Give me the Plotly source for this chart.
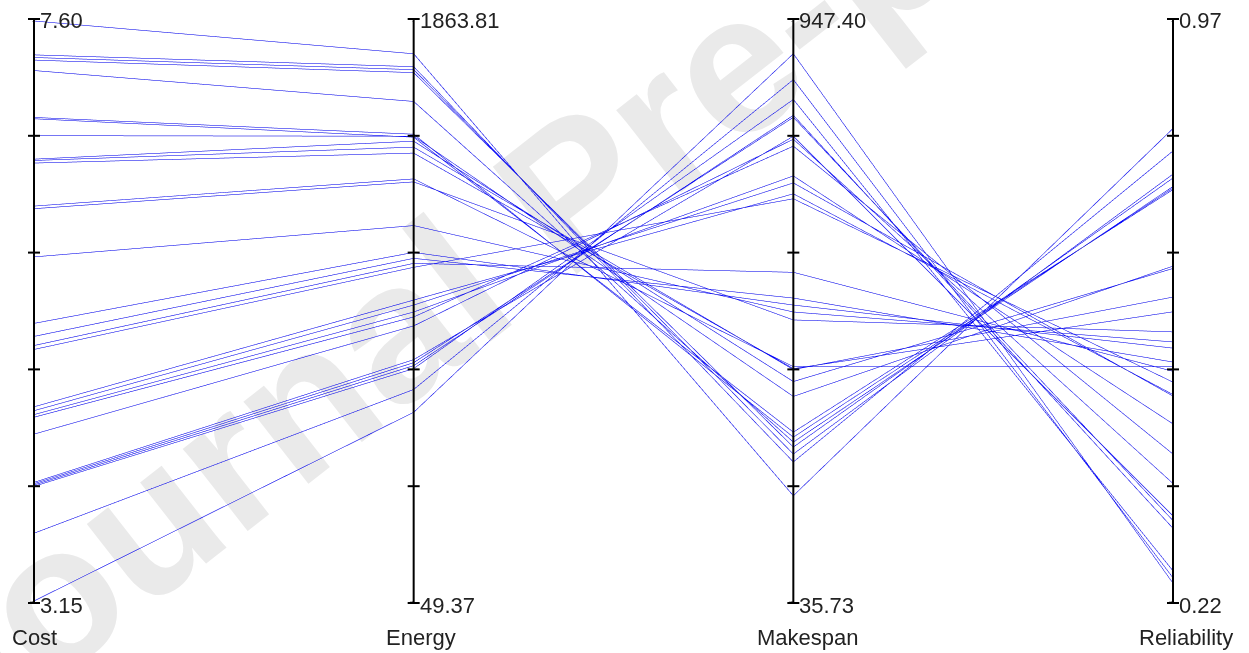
import numpy as np
import plotly.graph_objects as go

# ---- data (one entry per solution / polyline) ----
dimension_names = ["Cost", "Energy", "Makespan", "Reliability"]

cost = [7.60, 7.34, 7.32, 7.30, 7.22, 6.86, 6.85, 6.72, 6.54, 6.53, 6.51, 6.18, 6.16, 5.79,
        5.28, 5.18, 5.11, 5.08, 4.64, 4.61, 4.58, 4.56, 4.43, 4.06, 4.05, 4.04, 4.03, 3.67, 3.15]
energy = [1761.3, 1720.9, 1711.6, 1702.3, 1612.2, 1509.6, 1500.3, 1503.4, 1487.9, 1469.2,
          1450.6, 1369.8, 1360.5, 1223.8, 1139.9, 1121.3, 1105.7, 1093.3, 990.8, 975.2,
          953.5, 938.0, 910.0, 804.4, 795.0, 785.7, 776.4, 711.1, 639.7]
makespan = [201.2, 254.3, 266.8, 277.7, 285.5, 293.3, 301.1, 357.3, 380.7, 399.5, 401.0,
            404.1, 477.5, 490.0, 500.9, 511.9, 552.4, 668.0, 675.8, 692.9, 703.9, 750.7,
            761.6, 766.3, 796.0, 799.1, 824.1, 855.3, 895.9]
reliability = [0.831, 0.802, 0.772, 0.767, 0.756, 0.754, 0.752, 0.653, 0.650, 0.613, 0.594,
               0.523, 0.568, 0.555, 0.547, 0.529, 0.517, 0.503, 0.487, 0.485, 0.449, 0.410,
               0.372, 0.330, 0.324, 0.314, 0.259, 0.250, 0.243]

axis_min = [3.15, 49.37, 35.73, 0.22]
axis_max = [7.60, 1863.81, 947.40, 0.97]
min_labels = ["3.15", "49.37", "35.73", "0.22"]
max_labels = ["7.60", "1863.81", "947.40", "0.97"]
n_ticks = 6

# ---- figure geometry (pixels) ----
W, H = 1249, 653
ML, MR, MT, MB = 34, 76, 19, 50
PW, PH = W - ML - MR, H - MT - MB
title_xshift = [0, 7, 15, 13]

FONT = "Liberation Sans, Arial, Helvetica, sans-serif"
series = [cost, energy, makespan, reliability]

dims = []
for name, vals, lo, hi in zip(dimension_names, series, axis_min, axis_max):
    tv = list(np.linspace(lo, hi, n_ticks))
    dims.append(dict(label="", values=vals, range=[lo, hi],
                     tickvals=tv, ticktext=[""] * n_ticks))

fig = go.Figure(go.Parcoords(
    line=dict(color="#0000ff"),
    dimensions=dims,
    labelfont=dict(family=FONT, size=1, color="rgba(0,0,0,0)"),
    tickfont=dict(family=FONT, size=1, color="rgba(0,0,0,0)"),
    rangefont=dict(family=FONT, size=1, color="rgba(0,0,0,0)"),
    domain=dict(x=[0, 1], y=[0, 1]),
))

nd = len(dimension_names)
shapes = []
annotations = []
for i in range(nd):
    xp = i / (nd - 1)
    shapes.append(dict(type="line", xref="paper", yref="paper", x0=xp, x1=xp, y0=0, y1=1,
                       line=dict(color="black", width=2), layer="above"))
    for f in np.linspace(0, 1, n_ticks):
        shapes.append(dict(type="line", xref="paper", yref="paper", xsizemode="pixel",
                           xanchor=xp, x0=-6, x1=6, y0=f, y1=f,
                           line=dict(color="black", width=2), layer="above"))
    annotations.append(dict(x=xp, y=1, xref="paper", yref="paper", text=max_labels[i],
                            showarrow=False, xanchor="left", yanchor="middle", xshift=4,
                            yshift=-1, font=dict(family=FONT, size=22, color="#222222")))
    annotations.append(dict(x=xp, y=0, xref="paper", yref="paper", text=min_labels[i],
                            showarrow=False, xanchor="left", yanchor="middle", xshift=4,
                            yshift=-2, font=dict(family=FONT, size=22, color="#222222")))
    annotations.append(dict(x=xp, y=0, xref="paper", yref="paper", text=dimension_names[i],
                            showarrow=False, xanchor="center", yanchor="top",
                            xshift=title_xshift[i], yshift=-20,
                            font=dict(family=FONT, size=22, color="#222222")))


# faint diagonal watermark (under the data lines)
def px(xpix):
    return (xpix - ML) / PW


def py(ypix):
    return (H - MB - ypix) / PH


cx, cy, ang, half = 560, 176, np.deg2rad(38), 500
shapes.append(dict(type="line", xref="paper", yref="paper",
                   x0=px(cx - half * np.cos(ang)), y0=py(cy + half * np.sin(ang)),
                   x1=px(cx + half * np.cos(ang)), y1=py(cy - half * np.sin(ang)),
                   line=dict(color="rgba(0,0,0,0)", width=0), layer="below",
                   label=dict(text="Journal Pre-proof", textposition="middle",
                              yanchor="middle",
                              font=dict(family=FONT, size=198, color="#eaeaea",
                                        weight="bold"))))

fig.update_layout(
    width=W, height=H,
    margin=dict(l=ML, r=MR, t=MT, b=MB),
    paper_bgcolor="white", plot_bgcolor="white",
    shapes=shapes, annotations=annotations,
    font=dict(family=FONT),
)

fig.write_html("out.html")
